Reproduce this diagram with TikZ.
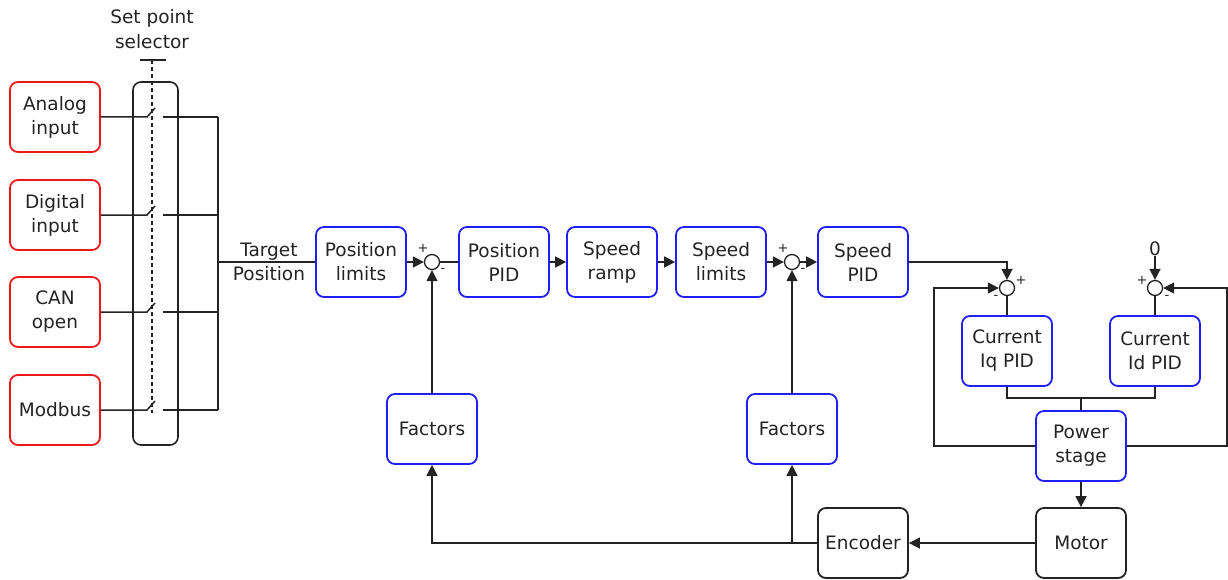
\documentclass[tikz,border=0pt]{standalone}
\usepackage{fontspec}
\setmainfont{DejaVu Sans}
\usetikzlibrary{arrows.meta}
\definecolor{bred}{RGB}{235,25,25}
\definecolor{bblue}{RGB}{30,30,245}
\definecolor{dgray}{RGB}{35,35,35}
\begin{document}
\begin{tikzpicture}[x=1pt,y=-1pt,
  blk/.style={draw=dgray, rounded corners=8pt, line width=1.8pt, minimum width=90pt, minimum height=70pt, align=center, inner sep=0pt, text=dgray, font=\fontsize{18.5}{24}\selectfont},
  rblk/.style={blk, draw=bred},
  bblk/.style={blk, draw=bblue},
  sumc/.style={circle, draw=dgray, line width=1.3pt, minimum size=15pt, inner sep=0pt},
  wire/.style={line width=1.5pt, draw=dgray},
  arr/.style={wire, -{Triangle[length=11pt,width=11pt]}},
  lbl/.style={align=center, inner sep=0pt, text=dgray, font=\fontsize{18.5}{24}\selectfont},
  sgn/.style={inner sep=0pt, text=dgray, font=\fontsize{13}{13}\selectfont}
]
\useasboundingbox (0,0) rectangle (1228,580);
% inputs
\node[rblk] (analog) at (55,117) {Analog\\input};
\node[rblk] (digital) at (55,215) {Digital\\input};
\node[rblk] (can) at (55,312) {CAN\\open};
\node[rblk] (modbus) at (55,410) {Modbus};
% selector
\node[draw=dgray, rounded corners=8pt, line width=1.6pt, minimum width=45pt, minimum height=363pt, inner sep=0pt] (sel) at (155.5,263.5) {};
\node[lbl, font=\fontsize{18.5}{25}\selectfont] (seltxt) at (152,29) {Set point\\selector};
\coordinate (dtop) at (152,60);
\coordinate (dbot) at (152,413);
\coordinate (barl) at (140,60);
\coordinate (barr) at (166,60);
\draw[wire] (barl) -- (barr);
\draw[wire, line width=1.3pt, dash pattern=on 4pt off 3pt] (dtop) -- (dbot);
% switches
\foreach \n/\y/\src in {1/117/analog,2/215/digital,3/312/can,4/410/modbus}{
  \coordinate (sa\n) at (147,\y);
  \coordinate (sb\n) at (155,{\y-9});
  \coordinate (sc\n) at (163,\y);
  \coordinate (bus\n) at (218,\y);
  \draw[wire] (\src.east) -- (sa\n) -- (sb\n);
  \draw[wire] (sc\n) -- (bus\n);
}
\draw[wire] (bus1) -- (bus4);
\coordinate (busm) at (218,262);
% main chain
\node[bblk] (poslim) at (361,262) {Position\\limits};
\node[sumc] (sum1) at (432,262) {};
\node[bblk] (pospid) at (504,262) {Position\\PID};
\node[bblk] (ramp) at (612,262) {Speed\\ramp};
\node[bblk] (spdlim) at (721,262) {Speed\\limits};
\node[sumc] (sum2) at (792,262) {};
\node[bblk] (spdpid) at (863,262) {Speed\\PID};
\node[bblk] (fac1) at (432,429) {Factors};
\node[bblk] (fac2) at (792,429) {Factors};
\node[sumc] (sum3) at (1007,288) {};
\node[sumc] (sum4) at (1155,288) {};
\node[bblk] (iq) at (1007,351) {Current\\Iq PID};
\node[bblk] (id) at (1155,351) {Current\\Id PID};
\node[bblk] (power) at (1081,446) {Power\\stage};
\node[blk] (motor) at (1081,543) {Motor};
\node[blk] (enc) at (863,543) {Encoder};
\node[lbl] (zero) at (1155,249) {0};
\node[lbl] (tp) at (269,262) {Target\\Position};
% signs
\node[sgn] (p1) at (423,248) {+};
\node[sgn] (m1) at (443,270) {-};
\node[sgn] (p2) at (783,248) {+};
\node[sgn] (m2) at (803,270) {-};
\node[sgn] (p3) at (1021,280) {+};
\node[sgn] (m3) at (996,297) {-};
\node[sgn] (p4) at (1142,280) {+};
\node[sgn] (m4) at (1167,297) {-};
% connectors
\draw[wire] (busm) -- (poslim.west);
\draw[arr] (poslim) -- (sum1);
\draw[wire] (sum1) -- (pospid);
\draw[arr] (pospid) -- (ramp);
\draw[arr] (ramp) -- (spdlim);
\draw[arr] (spdlim) -- (sum2);
\draw[arr] (sum2) -- (spdpid);
\draw[arr] (fac1.north) -- (sum1.south);
\draw[arr] (fac2.north) -- (sum2.south);
\draw[arr] (spdpid.east) -| (sum3.north);
\coordinate (lft) at (934,446);
\coordinate (rgt) at (1227,446);
\draw[arr] (power.west) -- (lft) |- (sum3.west);
\draw[arr] (power.east) -- (rgt) |- (sum4.east);
\draw[wire] (sum3.south) -- (iq.north);
\draw[wire] (sum4.south) -- (id.north);
\coordinate (jn) at (1081,398);
\draw[wire] (iq.south) |- (jn) -| (id.south);
\draw[wire] (jn) -- (power.north);
\draw[arr] (zero.south) -- (sum4.north);
\draw[arr] (power.south) -- (motor.north);
\draw[arr] (motor.west) -- (enc.east);
\draw[arr] (enc.west) -| (fac1.south);
\coordinate (br) at (792,543);
\draw[arr] (br) -- (fac2.south);
\end{tikzpicture}
\end{document}
